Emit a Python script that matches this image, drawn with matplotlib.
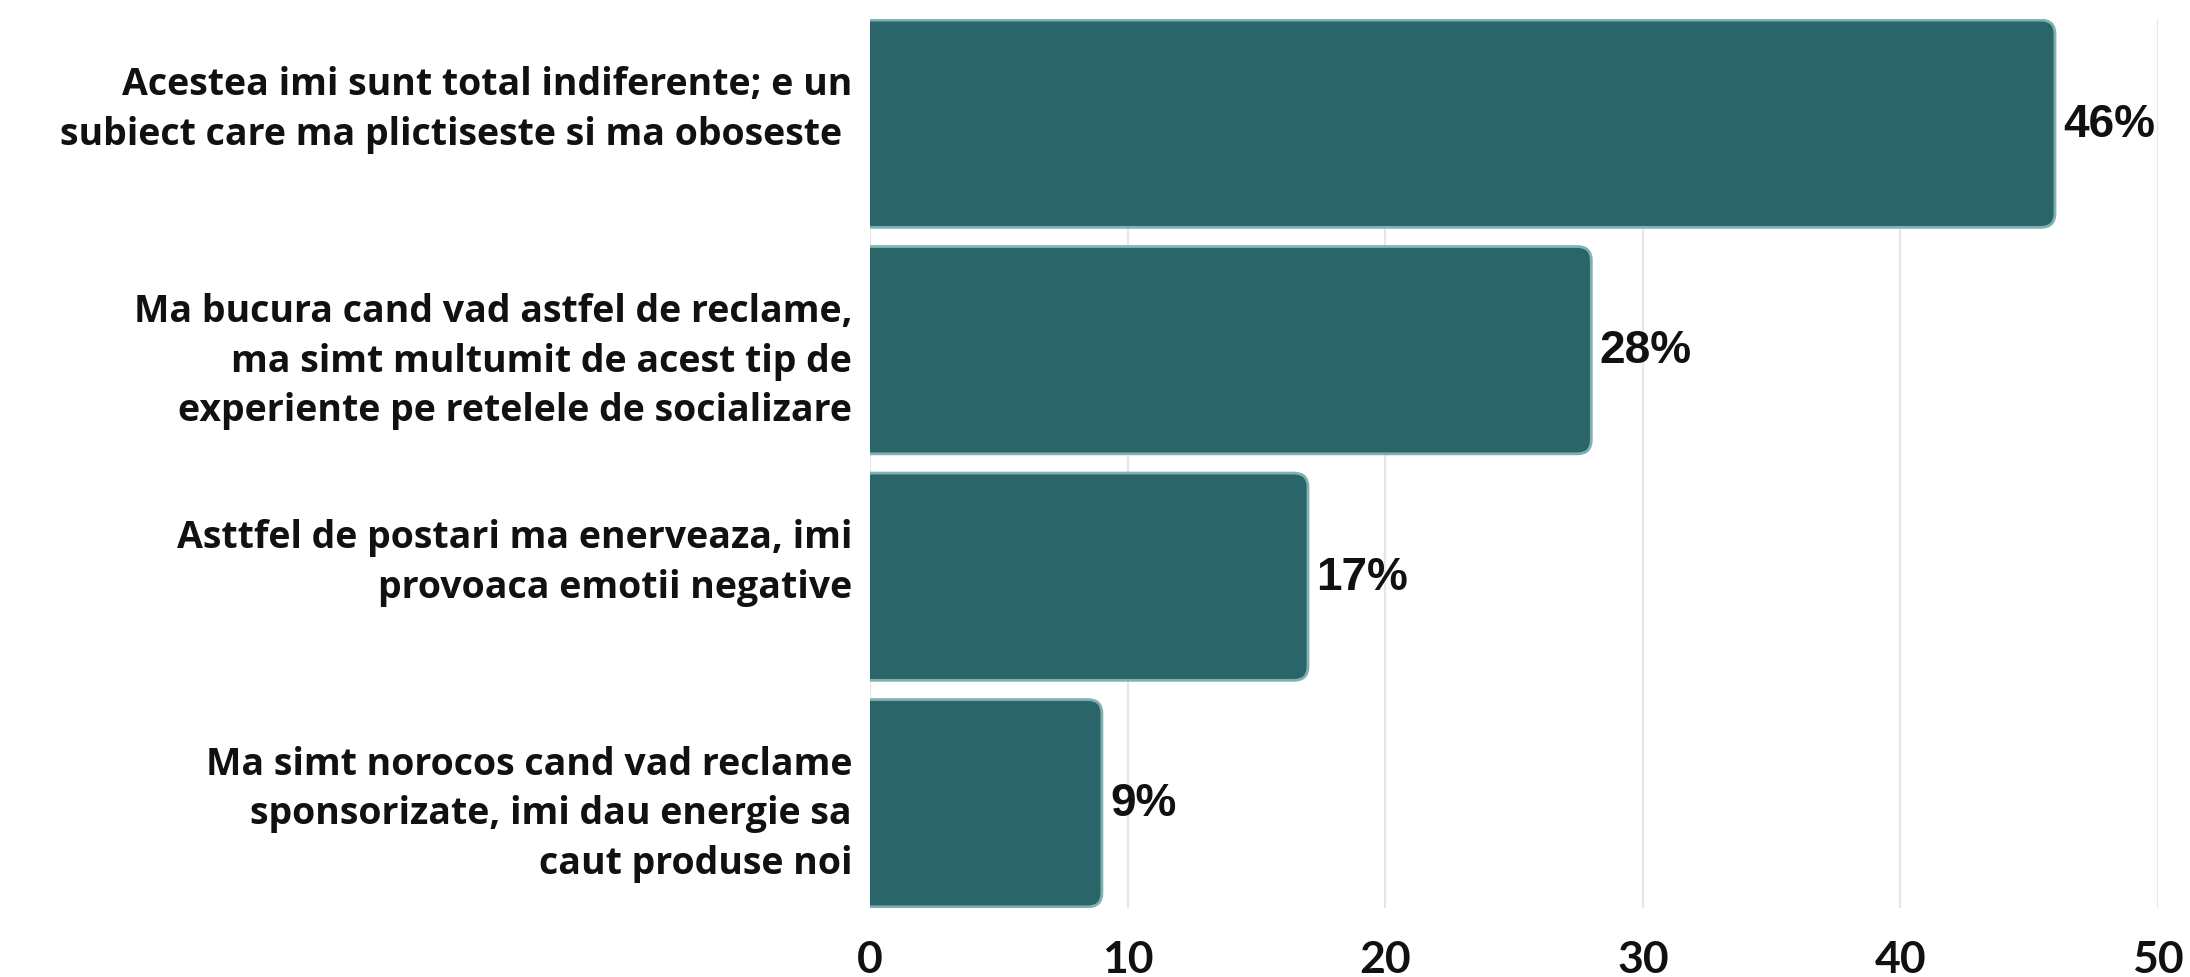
import matplotlib.pyplot as plt
from matplotlib.patches import FancyBboxPatch


CATEGORIES = [
    "Acestea imi sunt total indiferente; e un\nsubiect care ma plictiseste si ma oboseste \n ",
    "Ma bucura cand vad astfel de reclame,\nma simt multumit de acest tip de\nexperiente pe retelele de socializare",
    "Asttfel de postari ma enerveaza, imi\nprovoaca emotii negative\n ",
    "Ma simt norocos cand vad reclame\nsponsorizate, imi dau energie sa\ncaut produse noi",
]
VALUES = [46, 28, 17, 9]
X_TICKS = [0, 10, 20, 30, 40, 50]

BAR_COLOR = "#2a6569"
EDGE_COLOR = "#7fb0b2"
LABEL_FONT = "Open Sans"
TICK_FONT = "Lato"


def plot_chart() -> None:
    fig = plt.figure(figsize=(21.9, 9.78), dpi=100)
    ax = fig.add_axes([0.3973, 0.0706, 0.5881, 0.909])

    bar_height = 0.915
    positions = list(range(len(VALUES)))
    bars = ax.barh(positions, VALUES, height=bar_height, color="none")

    ax.set_xlim(0, 50)
    ax.set_ylim(len(VALUES) - 1 + bar_height / 2 + 0.005, -bar_height / 2 - 0.005)

    # rounded right corners: shift box left so the left rounding is clipped
    fig.canvas.draw()
    x_px = ax.transData.transform([(0, 0), (1, 0)])
    y_px = ax.transData.transform([(0, 0), (0, 1)])
    px_per_x = abs(x_px[1][0] - x_px[0][0])
    px_per_y = abs(y_px[1][1] - y_px[0][1])
    radius = 14 / px_per_x
    for bar in bars:
        x0 = bar.get_x()
        y0 = bar.get_y()
        width = bar.get_width()
        height = bar.get_height()
        patch = FancyBboxPatch(
            (x0 - 2 * radius, y0),
            width + 2 * radius,
            height,
            boxstyle=f"round,pad=0,rounding_size={radius}",
            mutation_aspect=px_per_x / px_per_y,
            facecolor=BAR_COLOR,
            edgecolor=EDGE_COLOR,
            linewidth=2,
            zorder=3,
        )
        ax.add_patch(patch)

    for pos, value in zip(positions, VALUES):
        ax.annotate(
            f"{value}%",
            xy=(value, pos),
            xytext=(6, 0),
            textcoords="offset points",
            va="center",
            ha="left",
            fontsize=33,
            fontweight="bold",
            family="Liberation Sans",
            color="#111111",
        )

    ax.set_yticks(positions)
    ax.set_yticklabels(CATEGORIES)
    for label in ax.get_yticklabels():
        label.set_fontsize(27)
        label.set_fontweight("bold")
        label.set_family(LABEL_FONT)
        label.set_color("#111111")
        label.set_linespacing(1.4)
        label.set_horizontalalignment("right")
        label.set_multialignment("right")
    ax.tick_params(axis="y", length=0, pad=13)

    ax.set_xticks(X_TICKS)
    ax.set_xticklabels([str(t) for t in X_TICKS])
    for label in ax.get_xticklabels():
        label.set_fontsize(32)
        label.set_fontweight("bold")
        label.set_family(TICK_FONT)
        label.set_color("#111111")
    ax.tick_params(axis="x", length=0, pad=22)

    ax.grid(axis="x", color="#e6e6e6", linewidth=1.5, zorder=0)
    ax.set_axisbelow(True)
    for spine in ax.spines.values():
        spine.set_visible(False)

    fig.savefig("out.png", dpi=100)


if __name__ == "__main__":
    plot_chart()
